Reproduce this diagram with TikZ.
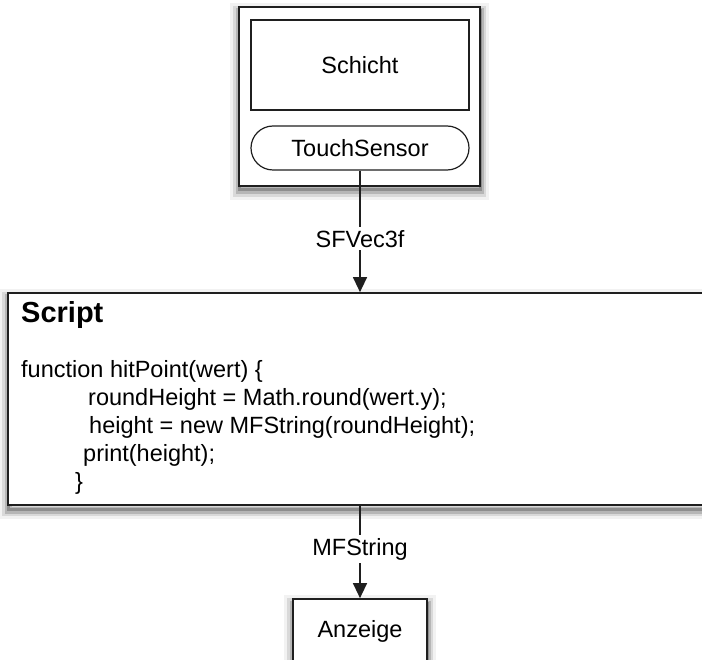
\documentclass[tikz,border=0pt]{standalone}
\usepackage{fontspec}
\setmainfont{Liberation Sans}
\usetikzlibrary{arrows.meta}
\begin{document}
\begin{tikzpicture}[x=1pt,y=-1pt,
  box/.style={draw=black!88,fill=white,line width=1.7pt,inner sep=0pt},
  inbox/.style={draw=black!88,fill=white,line width=1.2pt,inner sep=0pt},
  softshadow/.style={
    preaction={draw=black,fill=none,line width=18pt,draw opacity=.05,transform canvas={yshift=-5pt}},
    preaction={draw=black,fill=none,line width=12pt,draw opacity=.1,transform canvas={yshift=-5pt}},
    preaction={draw=black,fill=none,line width=7pt,draw opacity=.16,transform canvas={yshift=-5pt}},
    preaction={draw=black,fill=none,line width=3pt,draw opacity=.22,transform canvas={yshift=-4pt}}},
  txt/.style={font=\fontsize{23.5}{28}\selectfont},
  lbl/.style={fill=white,inner sep=3pt,font=\fontsize{23.5}{28}\selectfont},
  conn/.style={draw=black!88,line width=1.3pt,-{Triangle[length=15pt,width=14pt]}}
]
\clip (0,0) rectangle (702,660);
% top component
\node[box,softshadow,minimum width=241pt,minimum height=179pt] (outer) at (359.5,96.5) {};
\node[inbox,txt,minimum width=218pt,minimum height=90pt] (schicht) at (360,65) {Schicht};
\node[inbox,txt,rounded corners=22pt,minimum width=218pt,minimum height=44pt] (touch) at (360,148) {TouchSensor};
% script
\node[box,softshadow,minimum width=698pt,minimum height=212pt] (script) at (357,399) {};
\node[anchor=base west,inner sep=0pt,font=\bfseries\fontsize{29}{32}\selectfont] (title) at (21,323) {Script};
\node[anchor=base west,inner sep=0pt,align=left,txt] (code) at (21,489)
 {function hitPoint(wert) \{\\
  \hspace*{67pt}roundHeight = Math.round(wert.y);\\
  \hspace*{68pt}height = new MFString(roundHeight);\\
  \hspace*{62pt}print(height);\\
  \hspace*{54pt}\}};
% display
\node[box,softshadow,minimum width=134pt,minimum height=101pt] (anzeige) at (360,649.5) {};
\node[anchor=base,inner sep=0pt,txt] (anzeigetext) at (360,637) {Anzeige};
% connectors
\draw[conn] (touch.south) -- node[lbl,pos=0.56] (l1) {SFVec3f} (touch.south |- script.north);
\draw[conn] (anzeige.north |- script.south) -- node[lbl,pos=0.47] (l2) {MFString} (anzeige.north);
\end{tikzpicture}
\end{document}
